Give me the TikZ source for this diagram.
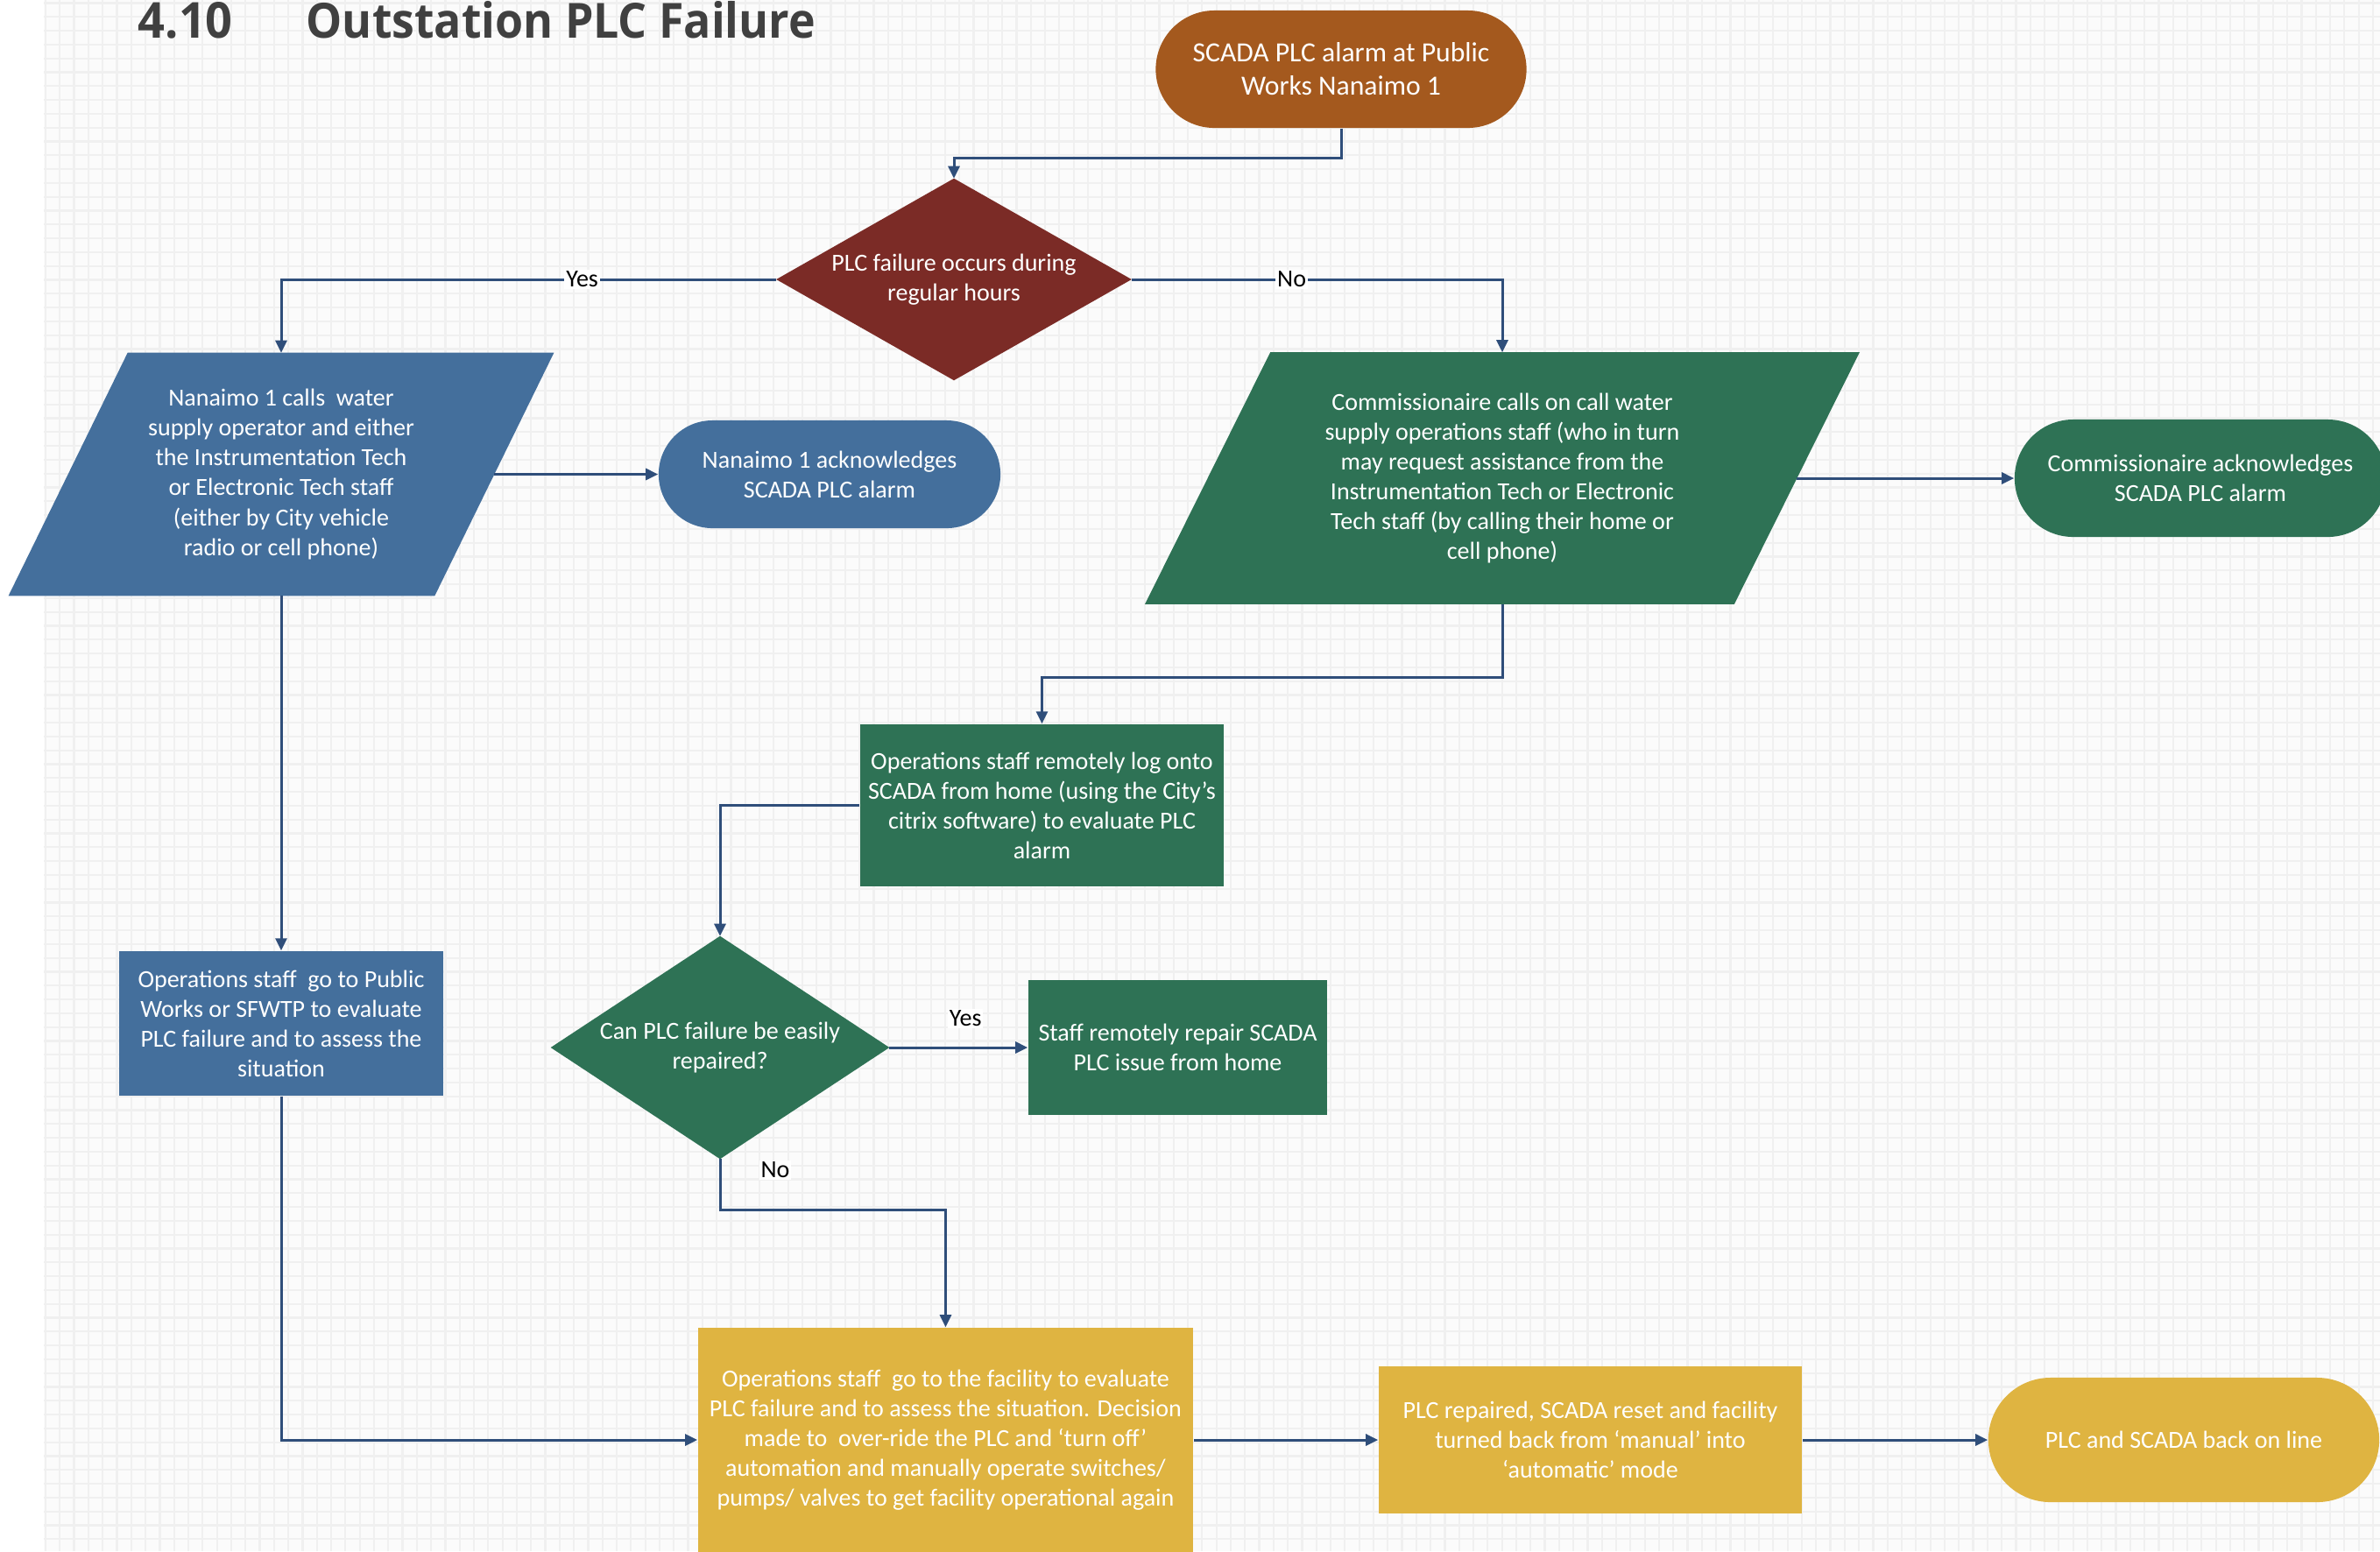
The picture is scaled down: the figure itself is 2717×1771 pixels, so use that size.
\documentclass[tikz,border=0pt]{standalone}
\usepackage{fontspec}
\usepackage{graphicx}
\setmainfont{Carlito}
\newfontfamily\titlefont{Open Sans}
\usetikzlibrary{arrows.meta,shapes.misc}
\definecolor{corange}{HTML}{A4591E}
\definecolor{cdred}{HTML}{7B2B26}
\definecolor{cblue}{HTML}{446F9C}
\definecolor{cgreen}{HTML}{2E7255}
\definecolor{cyellow}{HTML}{DFB441}
\definecolor{cconn}{HTML}{2F4E7A}
\definecolor{ctitle}{HTML}{404040}
\definecolor{gridbg}{HTML}{FBFBFB}
\definecolor{gridc}{HTML}{F0F0F0}
\pgfdeclarelayer{gridlayer}
\pgfdeclarelayer{shapelayer}
\pgfsetlayers{gridlayer,shapelayer,main}
\newcommand\myBody{\fontsize{7.97pt}{9.67pt}\selectfont}
\newcommand\myBig{\fontsize{9pt}{10.8pt}\selectfont}
\begin{document}
\begin{tikzpicture}[x=0.01cm,y=-0.01cm,
  boxs/.style={rectangle, inner sep=0pt, align=center, text=white, font=\myBody},
  conn/.style={draw=cconn, line width=0.03cm, -{Triangle[length=0.14cm,width=0.13cm]}},
  lbl/.style={fill=white, inner sep=0.02cm, text=black, font=\myBody},
  gridln/.style={line width=0.022cm, draw=gridc}]
\useasboundingbox (0,0) rectangle (2717,1771);
\begin{pgfonlayer}{gridlayer}
\fill[white] (0,0) rectangle (2717,1771);
\fill[gridbg] (50,0) rectangle (2717,1771);
\foreach \i in {0,...,163} { \draw[gridln] ({52+16.3*\i},0) -- ({52+16.3*\i},1771); }
\foreach \j in {0,...,112} { \draw[gridln] (50,{3.4+15.8*\j}) -- (2717,{3.4+15.8*\j}); }
\end{pgfonlayer}

% title
\node[anchor=base west, inner sep=0pt, text=ctitle] (tnum) at (157,43) {\resizebox{1.08cm}{0.41cm}{\titlefont\bfseries 4.10}};
\node[anchor=base west, inner sep=0pt, text=ctitle] (ttext) at (349,43) {\resizebox{5.81cm}{0.42cm}{\titlefont\bfseries Outstation PLC Failure}};

% nodes
\node[boxs, rounded rectangle, fill=corange, minimum width=4.23cm, minimum height=1.34cm, font=\myBig] (start) at (1531,79) {SCADA PLC alarm at Public\\Works Nanaimo 1};
\node[boxs, minimum width=4.04cm, minimum height=2.29cm] (d1) at (1089,319) {PLC failure occurs during\\regular hours};
\node[boxs, minimum width=4.85cm, minimum height=2.76cm] (L) at (321,541.5) {Nanaimo 1 calls~ water\\supply operator and either\\the Instrumentation Tech\\or Electronic Tech staff\\(either by City vehicle\\radio or cell phone)};
\node[boxs, rounded rectangle, fill=cblue, minimum width=3.90cm, minimum height=1.23cm] (ack1) at (947,541.5) {Nanaimo 1 acknowledges\\SCADA PLC alarm};
\node[boxs, minimum width=6.71cm, minimum height=2.86cm] (R) at (1715,546) {Commissionaire calls on call water\\supply operations staff (who in turn\\may request assistance from the\\Instrumentation Tech or Electronic\\Tech staff (by calling their home or\\cell phone)};
\node[boxs, rounded rectangle, fill=cgreen, minimum width=4.24cm, minimum height=1.34cm] (ack2) at (2512,546) {Commissionaire acknowledges\\SCADA PLC alarm};
\node[boxs, fill=cgreen, minimum width=4.15cm, minimum height=1.85cm] (ops) at (1189.5,919.5) {Operations staff remotely log onto\\SCADA from home (using the City’s\\citrix software) to evaluate PLC\\alarm};
\node[boxs, minimum width=3.85cm, minimum height=2.53cm] (d2) at (822,1196) {Can PLC failure be easily\\repaired?};
\node[boxs, fill=cgreen, minimum width=3.41cm, minimum height=1.54cm] (fix) at (1344.5,1196) {Staff remotely repair SCADA\\PLC issue from home};
\node[boxs, fill=cblue, minimum width=3.69cm, minimum height=1.65cm] (opsL) at (321,1168.5) {Operations staff~ go to Public\\Works or SFWTP to evaluate\\PLC failure and to assess the\\situation};
\node[boxs, fill=cyellow, minimum width=5.65cm, minimum height=2.56cm] (yel1) at (1079.5,1644) {Operations staff~ go to the facility to evaluate\\PLC failure and to assess the situation. Decision\\made to~ over-ride the PLC and ‘turn off’\\automation and manually operate switches/\\pumps/ valves to get facility operational again};
\node[boxs, fill=cyellow, minimum width=4.83cm, minimum height=1.68cm] (yel2) at (1815.5,1644) {PLC repaired, SCADA reset and facility\\turned back from ‘manual’ into\\‘automatic’ mode};
\node[boxs, rounded rectangle, fill=cyellow, minimum width=4.46cm, minimum height=1.42cm] (final) at (2493,1644) {PLC and SCADA back on line};

% shape fills
\begin{pgfonlayer}{shapelayer}
\fill[cdred] (d1.north) -- (d1.east) -- (d1.south) -- (d1.west) -- cycle;
\fill[cgreen] (d2.north) -- (d2.east) -- (d2.south) -- (d2.west) -- cycle;
\fill[cblue] ([xshift=0.68cm]L.north west) -- ([xshift=0.68cm]L.north east) -- ([xshift=-0.68cm]L.south east) -- ([xshift=-0.68cm]L.south west) -- cycle;
\fill[cgreen] ([xshift=0.715cm]R.north west) -- ([xshift=0.715cm]R.north east) -- ([xshift=-0.715cm]R.south east) -- ([xshift=-0.715cm]R.south west) -- cycle;
\end{pgfonlayer}

% connectors
\draw[conn] (start.south) -- ++(0,34) -| (d1.north);
\draw[conn] (d1.west) -| node[lbl, pos=0.196] {Yes} (L.north);
\draw[conn] (d1.east) -| node[lbl, pos=0.216] {No} (R.north);
\draw[conn] (L.east) -- (ack1.west);
\draw[conn] (R.east) -- (ack2.west);
\draw[conn] (R.south) -- ++(0,84) -| (ops.north);
\draw[conn] (ops.west) -| (d2.north);
\draw[conn] (d2.east) -- node[lbl, pos=0.55, yshift=0.33cm] {Yes} (fix.west);
\draw[conn] (d2.south) -- node[lbl, pos=0.21, xshift=0.63cm] {No} ++(0,58.5) -| (yel1.north);
\draw[conn] (L.south) -- (opsL.north);
\draw[conn] (opsL.south) |- (yel1.west);
\draw[conn] (yel1.east) -- (yel2.west);
\draw[conn] (yel2.east) -- (final.west);
\end{tikzpicture}
\end{document}
